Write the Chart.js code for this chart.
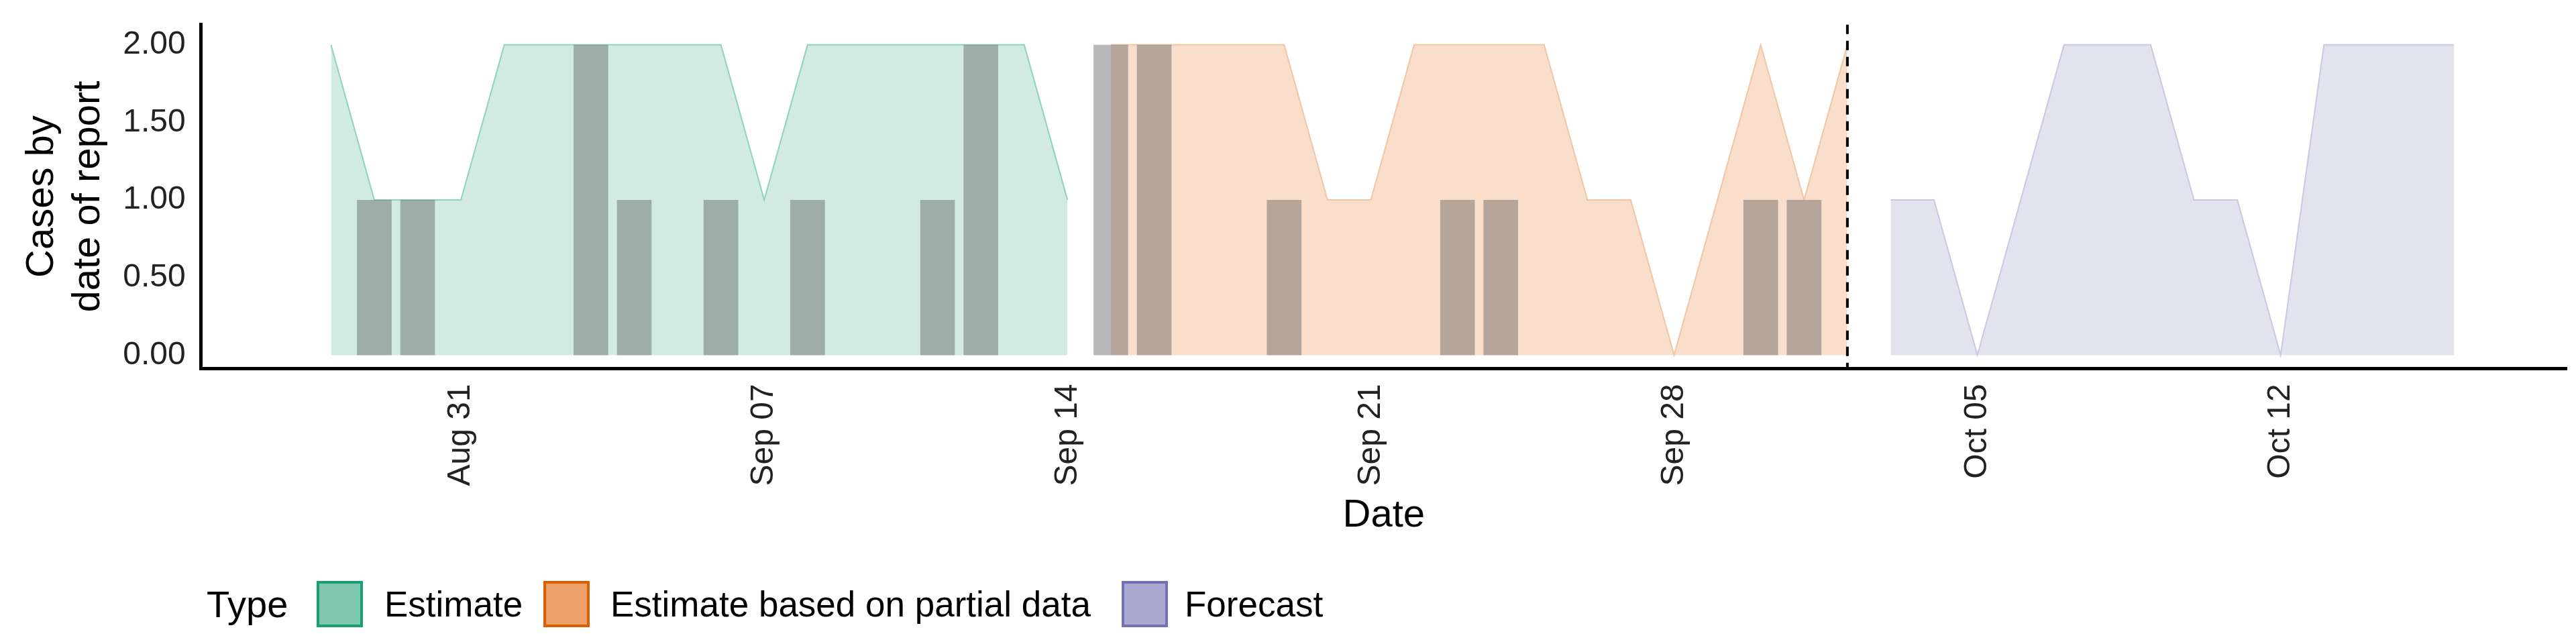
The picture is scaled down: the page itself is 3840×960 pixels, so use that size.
<!DOCTYPE html>
<html>
<head>
<meta charset="utf-8">
<script src="https://cdn.jsdelivr.net/npm/chart.js@4.4.1/dist/chart.umd.min.js"></script>
<style>
  body { margin: 0; background: #fff; font-family: "Liberation Sans", Arial, sans-serif; }
  #wrap { position: relative; width: 3840px; height: 960px; }
  #legend span { position: absolute; font-size: 53px; color: #000; line-height: 70px; top: 866px; white-space: nowrap; }
  #legend .sw { width: 69px; height: 69px; box-sizing: border-box; border: 4px solid; }
</style>
</head>
<body>
<div id="wrap">
  <canvas id="c" width="3840" height="810" style="width:3840px;height:810px"></canvas>
  <div id="legend">
    <span style="left:308px;font-size:56px">Type</span>
    <span class="sw" style="left:472px;background:#7fc7ae;border-color:#1b9e77"></span><span style="left:573px">Estimate</span>
    <span class="sw" style="left:810px;background:#eba06a;border-color:#d95f02"></span><span style="left:910px">Estimate based on partial data</span>
    <span class="sw" style="left:1672px;background:#aaa8d0;border-color:#7570b3"></span><span style="left:1766px">Forecast</span>
  </div>
</div>
<script>
// day 0 = 2020-08-25
const startDay = "2020-08-25";
const estimateStart = "2020-08-28";
const estimateValues = [2, 1, 1, 1, 2, 2, 2, 2, 2, 2, 1, 2, 2, 2, 2, 2, 2, 1];
const partialStart = "2020-09-15";
const partialValues = [2, 2, 2, 2, 2, 1, 1, 2, 2, 2, 2, 1, 1, 0, 1, 2, 1, 2];
const forecastStart = "2020-10-03";
const forecastValues = [1, 1, 0, 1, 2, 2, 2, 1, 1, 0, 2, 2, 2, 2];
const reportDates = ["2020-08-29", "2020-08-30", "2020-09-03", "2020-09-04", "2020-09-06", "2020-09-08",
  "2020-09-11", "2020-09-12", "2020-09-15", "2020-09-16", "2020-09-19", "2020-09-23", "2020-09-24",
  "2020-09-30", "2020-10-01"];
const reportValues = [1, 1, 2, 1, 1, 1, 1, 2, 2, 2, 1, 1, 1, 1, 1];
const tickDates = ["2020-08-31", "2020-09-07", "2020-09-14", "2020-09-21", "2020-09-28", "2020-10-05", "2020-10-12"];
const tickLabels = ["Aug 31", "Sep 07", "Sep 14", "Sep 21", "Sep 28", "Oct 05", "Oct 12"];
const forecastLine = "2020-10-02";

const dayOf = s => Math.round((Date.parse(s) - Date.parse(startDay)) / 86400000);
const series = (start, vals) => vals.map((v, i) => ({ x: dayOf(start) + i, y: v }));
const tickDays = tickDates.map(dayOf);

const area = (label, start, vals, fill, line) => ({
  type: "line", label, data: series(start, vals), fill: "origin",
  backgroundColor: fill, borderColor: line, borderWidth: 2, pointRadius: 0, tension: 0, order: 2
});

const vline = {
  id: "vline",
  afterDatasetsDraw(chart) {
    const { ctx, chartArea, scales } = chart;
    const x = scales.x.getPixelForValue(dayOf(forecastLine));
    ctx.save();
    ctx.strokeStyle = "#000"; ctx.lineWidth = 4; ctx.setLineDash([14, 10]);
    ctx.beginPath(); ctx.moveTo(x, chartArea.top); ctx.lineTo(x, chartArea.bottom); ctx.stroke();
    ctx.restore();
  }
};

const tickFont = { size: 48, family: "Liberation Sans" };
const titleFont = { size: 58, family: "Liberation Sans" };

new Chart(document.getElementById("c"), {
  type: "bar",
  data: {
    datasets: [
      { type: "bar", label: "Reports", data: reportDates.map((d, i) => ({ x: dayOf(d), y: reportValues[i] })),
        backgroundColor: "rgba(84,84,84,0.41)", barPercentage: 0.8, categoryPercentage: 1, order: 1 },
      area("Estimate", estimateStart, estimateValues, "#d1ebe3", "#8fd3bd"),
      area("Estimate based on partial data", partialStart, partialValues, "#f8decb", "#f2c6a4"),
      area("Forecast", forecastStart, forecastValues, "#e3e2ef", "#cac8e2")
    ]
  },
  options: {
    responsive: false, animation: false,
    layout: { padding: { top: 28, right: 14, left: 20, bottom: 6 } },
    plugins: { legend: { display: false }, tooltip: { enabled: false } },
    scales: {
      x: {
        type: "linear", min: 0, max: 54.6, offset: false,
        grid: { display: false, drawTicks: true, tickLength: 15, tickColor: "#000", tickWidth: 4 },
        border: { color: "#000", width: 5 },
        afterBuildTicks: s => { s.ticks = tickDays.map(v => ({ value: v })); },
        ticks: { autoSkip: false, minRotation: 90, maxRotation: 90, color: "#222", font: tickFont, padding: 8,
          callback: v => tickLabels[tickDays.indexOf(v)] },
        title: { display: true, text: "Date", color: "#000", font: titleFont, padding: { top: 2, bottom: 0 } }
      },
      y: {
        min: -0.086, max: 2.13,
        grid: { display: false, tickLength: 15, tickColor: "#000", tickWidth: 4 },
        border: { color: "#000", width: 5 },
        afterBuildTicks: s => { s.ticks = [0, 0.5, 1, 1.5, 2].map(v => ({ value: v })); },
        ticks: { color: "#222", font: tickFont, padding: 8, callback: v => v.toFixed(2) },
        title: { display: true, text: ["Cases by", "date of report"], color: "#000", font: titleFont, padding: 8 }
      }
    }
  },
  plugins: [vline]
});
</script>
</body>
</html>
